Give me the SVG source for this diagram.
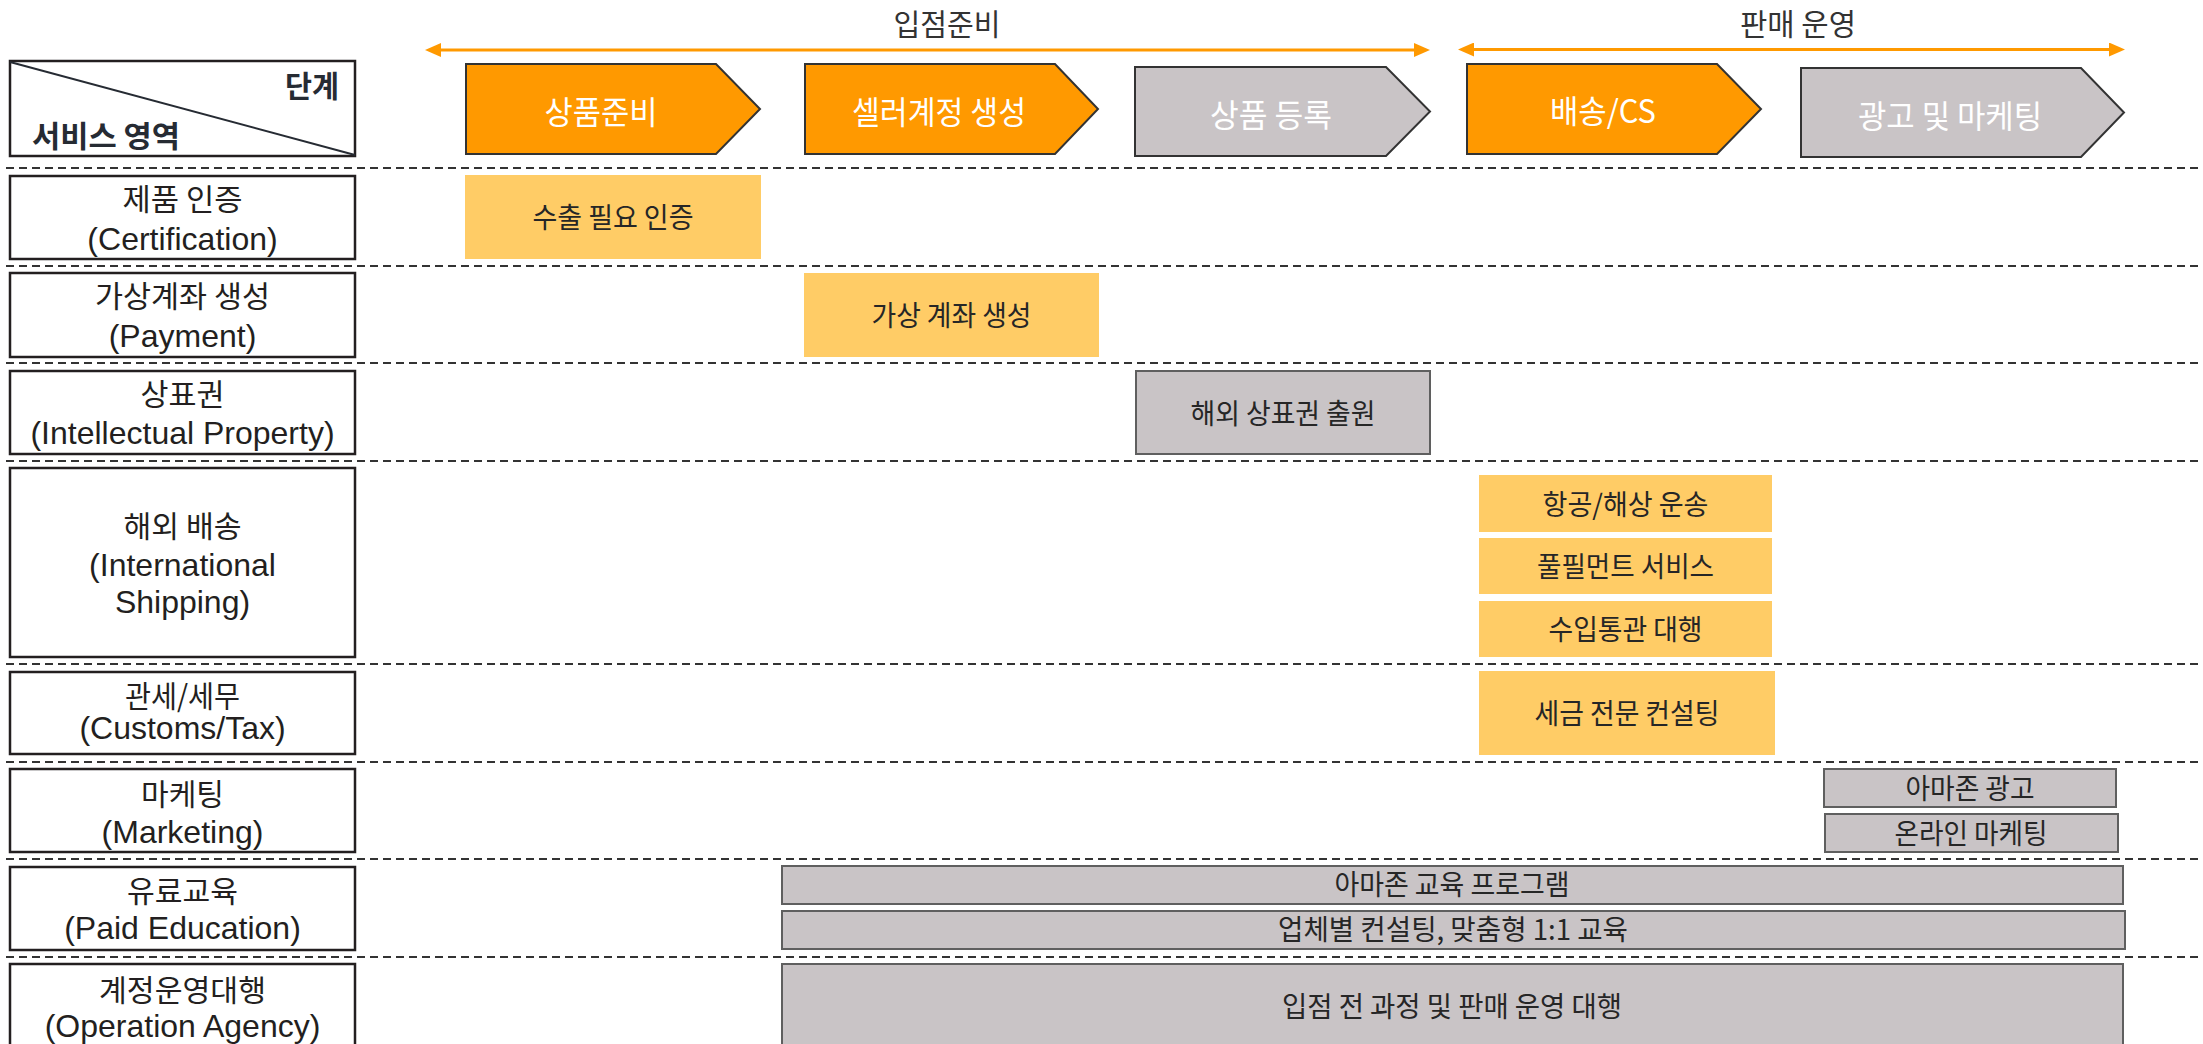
<svg xmlns="http://www.w3.org/2000/svg" width="2203" height="1044" viewBox="0 0 2203 1044">
  <style>
    text { font-family: "Liberation Sans", "Noto Sans CJK KR", sans-serif; }
    .ko { font-family: "Noto Sans CJK KR", sans-serif; }
    .hdr { font-size: 30px; font-weight: bold; fill: #262b33; }
    .phase { font-size: 30px; fill: #333333; text-anchor: middle; }
    .stage-txt { font-size: 32px; fill: #ffffff; text-anchor: middle; }
    .lbl-ko { font-size: 30px; fill: #231f20; text-anchor: middle; }
    .lbl-en { font-size: 32px; fill: #231f20; text-anchor: middle; }
    .cnt { font-size: 28px; fill: #262626; text-anchor: middle; }
    .lblbox { fill: #ffffff; stroke: #231f20; stroke-width: 2.5; }
    .orange { fill: #ff9900; stroke: #333333; stroke-width: 2; }
    .grey { fill: #c9c4c6; stroke: #333333; stroke-width: 2; }
    .ybox { fill: #ffcc66; }
    .gbox { fill: #c9c4c6; stroke: #5f5f5f; stroke-width: 2; }
    .sep { stroke: #333333; stroke-width: 2; stroke-dasharray: 8 5; }
    .span { stroke: #ff9900; stroke-width: 3; fill: none; }
  </style>
  <defs>
    <marker id="ah" viewBox="0 0 16 14" refX="8" refY="7" markerWidth="16" markerHeight="14" markerUnits="userSpaceOnUse" orient="auto-start-reverse">
      <path d="M0,0 L16,7 L0,14 Z" fill="#ff9900"/>
    </marker>
  </defs>

  <!-- dashed row separators -->
  <g id="separators">
    <line class="sep" x1="6" y1="168" x2="2203" y2="168"/>
    <line class="sep" x1="6" y1="266" x2="2203" y2="266"/>
    <line class="sep" x1="6" y1="363" x2="2203" y2="363"/>
    <line class="sep" x1="6" y1="461" x2="2203" y2="461"/>
    <line class="sep" x1="6" y1="664" x2="2203" y2="664"/>
    <line class="sep" x1="6" y1="762" x2="2203" y2="762"/>
    <line class="sep" x1="6" y1="859" x2="2203" y2="859"/>
    <line class="sep" x1="6" y1="957" x2="2203" y2="957"/>
  </g>

  <!-- phase span arrows -->
  <g id="connectors">
    <line class="span" x1="433" y1="50" x2="1422" y2="50" marker-start="url(#ah)" marker-end="url(#ah)"/>
    <line class="span" x1="1466" y1="49.5" x2="2117" y2="49.5" marker-start="url(#ah)" marker-end="url(#ah)"/>
  </g>
  <g id="phase-labels">
    <text class="phase ko" x="947" y="35" textLength="107" lengthAdjust="spacingAndGlyphs">입점준비</text>
    <text class="phase ko" x="1798" y="35" textLength="116" lengthAdjust="spacingAndGlyphs">판매 운영</text>
  </g>

  <!-- header corner cell -->
  <g id="header">
    <rect class="lblbox" x="10" y="61" width="345" height="95"/>
    <line x1="10" y1="62" x2="355" y2="155" stroke="#262b33" stroke-width="2"/>
    <text class="hdr ko" x="339" y="97" text-anchor="end" textLength="54" lengthAdjust="spacingAndGlyphs">단계</text>
    <text class="hdr ko" x="32" y="147" textLength="148" lengthAdjust="spacingAndGlyphs">서비스 영역</text>
  </g>

  <!-- stage chevrons -->
  <g id="stage-1">
    <path class="orange" d="M466,64 H716 L760,109 L716,154 H466 Z"/>
    <text class="stage-txt ko" x="601" y="124" textLength="113" lengthAdjust="spacingAndGlyphs">상품준비</text>
  </g>
  <g id="stage-2">
    <path class="orange" d="M805,64 H1055 L1098,109 L1055,154 H805 Z"/>
    <text class="stage-txt ko" x="939" y="124" textLength="174" lengthAdjust="spacingAndGlyphs">셀러계정 생성</text>
  </g>
  <g id="stage-3">
    <path class="grey" d="M1135,67 H1386 L1430,111.5 L1386,156 H1135 Z"/>
    <text class="stage-txt ko" x="1271" y="127" textLength="122" lengthAdjust="spacingAndGlyphs">상품 등록</text>
  </g>
  <g id="stage-4">
    <path class="orange" d="M1467,64 H1717 L1761,109 L1717,154 H1467 Z"/>
    <text class="stage-txt ko" x="1603" y="123" textLength="106" lengthAdjust="spacingAndGlyphs">배송/CS</text>
  </g>
  <g id="stage-5">
    <path class="grey" d="M1801,68 H2081 L2124,112.5 L2081,157 H1801 Z"/>
    <text class="stage-txt ko" x="1950" y="128" textLength="184" lengthAdjust="spacingAndGlyphs">광고 및 마케팅</text>
  </g>

  <!-- row labels -->
  <g id="row-certification">
    <rect class="lblbox" x="10" y="176" width="345" height="83"/>
    <text class="lbl-ko ko" x="182.5" y="210" textLength="120" lengthAdjust="spacingAndGlyphs">제품 인증</text>
    <text class="lbl-en" x="182.5" y="250">(Certification)</text>
  </g>
  <g id="row-payment">
    <rect class="lblbox" x="10" y="273" width="345" height="84"/>
    <text class="lbl-ko ko" x="182.5" y="307" textLength="175" lengthAdjust="spacingAndGlyphs">가상계좌 생성</text>
    <text class="lbl-en" x="182.5" y="347">(Payment)</text>
  </g>
  <g id="row-ip">
    <rect class="lblbox" x="10" y="371" width="345" height="83"/>
    <text class="lbl-ko ko" x="182.5" y="405" textLength="84" lengthAdjust="spacingAndGlyphs">상표권</text>
    <text class="lbl-en" x="182.5" y="444">(Intellectual Property)</text>
  </g>
  <g id="row-shipping">
    <rect class="lblbox" x="10" y="468" width="345" height="189"/>
    <text class="lbl-ko ko" x="182.5" y="537" textLength="118" lengthAdjust="spacingAndGlyphs">해외 배송</text>
    <text class="lbl-en" x="182.5" y="576">(International</text>
    <text class="lbl-en" x="182.5" y="613">Shipping)</text>
  </g>
  <g id="row-customs">
    <rect class="lblbox" x="10" y="672" width="345" height="82"/>
    <text class="lbl-ko ko" x="182.5" y="707" textLength="115" lengthAdjust="spacingAndGlyphs">관세/세무</text>
    <text class="lbl-en" x="182.5" y="739">(Customs/Tax)</text>
  </g>
  <g id="row-marketing">
    <rect class="lblbox" x="10" y="769" width="345" height="83"/>
    <text class="lbl-ko ko" x="182.5" y="805" textLength="83" lengthAdjust="spacingAndGlyphs">마케팅</text>
    <text class="lbl-en" x="182.5" y="843">(Marketing)</text>
  </g>
  <g id="row-education">
    <rect class="lblbox" x="10" y="867" width="345" height="83"/>
    <text class="lbl-ko ko" x="182.5" y="902" textLength="111" lengthAdjust="spacingAndGlyphs">유료교육</text>
    <text class="lbl-en" x="182.5" y="939">(Paid Education)</text>
  </g>
  <g id="row-agency">
    <rect class="lblbox" x="10" y="964" width="345" height="100"/>
    <text class="lbl-ko ko" x="182.5" y="1001" textLength="167" lengthAdjust="spacingAndGlyphs">계정운영대행</text>
    <text class="lbl-en" x="182.5" y="1037">(Operation Agency)</text>
  </g>

  <!-- service items -->
  <g id="item-export-cert">
    <rect class="ybox" x="465" y="175" width="296" height="84"/>
    <text class="cnt ko" x="613" y="228" textLength="161" lengthAdjust="spacingAndGlyphs">수출 필요 인증</text>
  </g>
  <g id="item-virtual-account">
    <rect class="ybox" x="804" y="273" width="295" height="84"/>
    <text class="cnt ko" x="951.5" y="326" textLength="160" lengthAdjust="spacingAndGlyphs">가상 계좌 생성</text>
  </g>
  <g id="item-trademark">
    <rect class="gbox" x="1136" y="371" width="294" height="83"/>
    <text class="cnt ko" x="1283" y="424" textLength="185" lengthAdjust="spacingAndGlyphs">해외 상표권 출원</text>
  </g>
  <g id="item-freight">
    <rect class="ybox" x="1479" y="475" width="293" height="57"/>
    <text class="cnt ko" x="1625.5" y="515" textLength="166" lengthAdjust="spacingAndGlyphs">항공/해상 운송</text>
  </g>
  <g id="item-fulfillment">
    <rect class="ybox" x="1479" y="538" width="293" height="56"/>
    <text class="cnt ko" x="1625.5" y="577" textLength="177" lengthAdjust="spacingAndGlyphs">풀필먼트 서비스</text>
  </g>
  <g id="item-import-clearance">
    <rect class="ybox" x="1479" y="601" width="293" height="56"/>
    <text class="cnt ko" x="1625.5" y="640" textLength="154" lengthAdjust="spacingAndGlyphs">수입통관 대행</text>
  </g>
  <g id="item-tax">
    <rect class="ybox" x="1479" y="671" width="296" height="84"/>
    <text class="cnt ko" x="1627" y="724" textLength="185" lengthAdjust="spacingAndGlyphs">세금 전문 컨설팅</text>
  </g>
  <g id="item-amazon-ads">
    <rect class="gbox" x="1824" y="769" width="292" height="38"/>
    <text class="cnt ko" x="1970" y="799" textLength="129" lengthAdjust="spacingAndGlyphs">아마존 광고</text>
  </g>
  <g id="item-online-marketing">
    <rect class="gbox" x="1825" y="814" width="293" height="38"/>
    <text class="cnt ko" x="1971" y="844" textLength="153" lengthAdjust="spacingAndGlyphs">온라인 마케팅</text>
  </g>
  <g id="item-amazon-edu">
    <rect class="gbox" x="782" y="866" width="1341" height="38"/>
    <text class="cnt ko" x="1452" y="895" textLength="235" lengthAdjust="spacingAndGlyphs">아마존 교육 프로그램</text>
  </g>
  <g id="item-consulting">
    <rect class="gbox" x="782" y="911" width="1343" height="38"/>
    <text class="cnt ko" x="1453" y="940" textLength="350" lengthAdjust="spacingAndGlyphs">업체별 컨설팅, 맞춤형 1:1 교육</text>
  </g>
  <g id="item-operation">
    <rect class="gbox" x="782" y="964" width="1341" height="100"/>
    <text class="cnt ko" x="1452" y="1017" textLength="340" lengthAdjust="spacingAndGlyphs">입점 전 과정 및 판매 운영 대행</text>
  </g>
</svg>
